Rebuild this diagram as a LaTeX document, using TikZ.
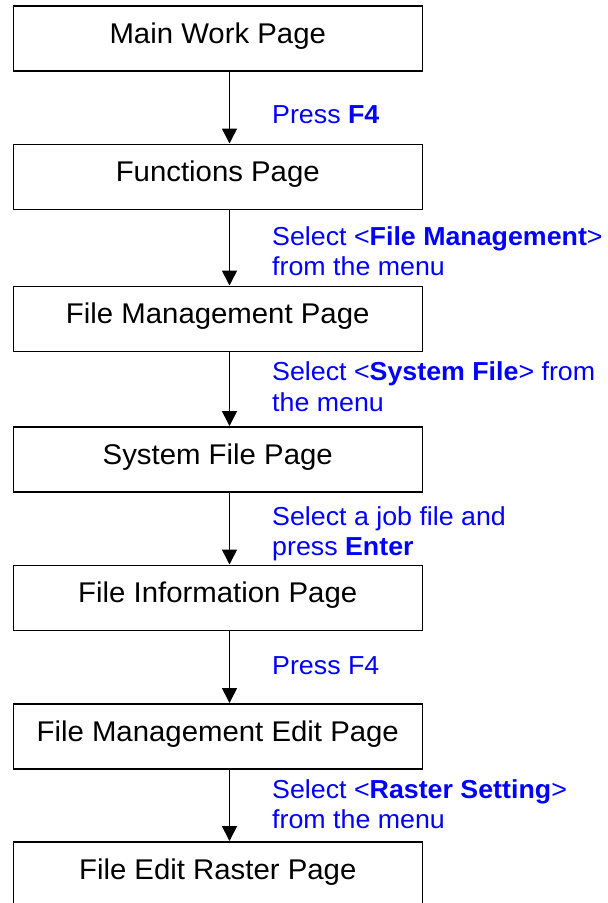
\documentclass[tikz,border=0pt]{standalone}
\usepackage{fontspec}
\setmainfont[FakeStretch=1.03]{Liberation Sans}
\usetikzlibrary{arrows.meta}
\definecolor{lblue}{RGB}{0,0,255}
\begin{document}
\begin{tikzpicture}[x=1pt,y=-1pt,
  pagebox/.style={draw=black,line width=1.5pt,minimum width=409pt,minimum height=65pt,
    inner sep=0pt,anchor=north west,text height=20.4pt,text depth=10pt,
    font=\fontsize{28.5}{32}\selectfont},
  lbl/.style={anchor=north west,inner sep=0pt,align=left,text=lblue,
    font=\fontsize{26}{30.5}\selectfont},
  flow/.style={line width=1.6pt,-{Triangle[width=15pt,length=15pt]}}]
\useasboundingbox (0,0) rectangle (608,903);
\begin{scope}
\clip (0,0) rectangle (608,903);
\node[pagebox] (b1) at (12.5,5.2) {Main Work Page};
\node[pagebox] (b2) at (12.5,143.5) {Functions Page};
\node[pagebox] (b3) at (12.5,285.5) {File Management Page};
\node[pagebox] (b4) at (12.5,426) {System File Page};
\node[pagebox] (b5) at (12.5,564.5) {File Information Page};
\node[pagebox] (b6) at (12.5,703) {File Management Edit Page};
\node[pagebox] (b7) at (12.5,841) {File Edit Raster Page};
\end{scope}
\coordinate (ax) at (229.5,0);
\draw[flow] (b1.south -| ax) -- (b2.north -| ax);
\draw[flow] (b2.south -| ax) -- (b3.north -| ax);
\draw[flow] (b3.south -| ax) -- (b4.north -| ax);
\draw[flow] (b4.south -| ax) -- (b5.north -| ax);
\draw[flow] (b5.south -| ax) -- (b6.north -| ax);
\draw[flow] (b6.south -| ax) -- (b7.north -| ax);
\node[lbl] (l1) at (272,105) {Press \textbf{F4}};
\node[lbl] (l2) at (272,226) {Select <\textbf{File Management}>\\from the menu};
\node[lbl] (l3) at (272,361.7) {Select <\textbf{System File}> from\\the menu};
\node[lbl] (l4) at (272,506) {Select a job file and\\press \textbf{Enter}};
\node[lbl] (l5) at (272,656.7) {Press F4};
\node[lbl] (l6) at (272,779.3) {Select <\textbf{Raster Setting}>\\from the menu};
\end{tikzpicture}
\end{document}
